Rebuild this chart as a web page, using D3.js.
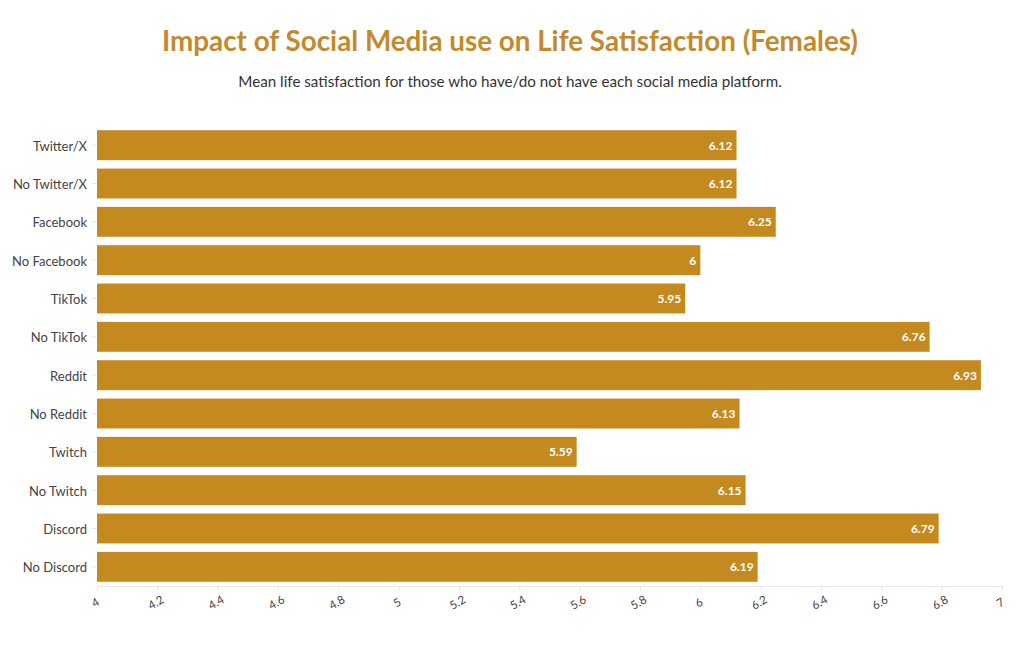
<!DOCTYPE html>
<html><head><meta charset="utf-8">
<script src="https://cdn.jsdelivr.net/npm/d3@7"></script>
<style>body{margin:0;background:#fff;} text{font-family:Lato,"Open Sans",sans-serif;}</style>
</head><body>
<svg id="c" width="1020" height="650"></svg>
<script>
const categories = ["Twitter/X","No Twitter/X","Facebook","No Facebook","TikTok","No TikTok","Reddit","No Reddit","Twitch","No Twitch","Discord","No Discord"];
const values = [6.12,6.12,6.25,6,5.95,6.76,6.93,6.13,5.59,6.15,6.79,6.19];
const xTicks = [4,4.2,4.4,4.6,4.8,5,5.2,5.4,5.6,5.8,6,6.2,6.4,6.6,6.8,7];
const titleText = "Impact of Social Media use on Life Satisfaction (Females)";
const subtitleText = "Mean life satisfaction for those who have/do not have each social media platform.";

const svg = d3.select("#c");
const gold = "#C48A1F";
const m = {left:97, right:1002, top:126, bottom:586};
const x = d3.scaleLinear().domain([4,7]).range([m.left,m.right]);
const y = d3.scaleBand().domain(categories).range([m.top,m.bottom]).paddingInner(0.22).paddingOuter(0.11);

svg.append("text").attr("x",510).attr("y",51).attr("text-anchor","middle")
  .attr("font-size",27.8).attr("font-weight","bold").attr("fill","#C28A2C").text(titleText);
svg.append("text").attr("x",510).attr("y",87).attr("text-anchor","middle")
  .attr("font-size",15.2).attr("fill","#333").text(subtitleText);

svg.selectAll("rect.bar").data(categories).join("rect").attr("class","bar")
  .attr("x",x(4)).attr("y",d=>y(d)).attr("height",y.bandwidth())
  .attr("width",(d,i)=>x(values[i])-x(4)).attr("fill",gold);

svg.selectAll("text.val").data(categories).join("text").attr("class","val")
  .attr("x",(d,i)=>x(values[i])-4).attr("y",d=>y(d)+y.bandwidth()/2+4.5)
  .attr("text-anchor","end").attr("font-size",12).attr("font-weight","bold").attr("fill","#fff")
  .text((d,i)=>values[i]);

// x axis
const xa = svg.append("g").attr("transform",`translate(0,${m.bottom})`)
  .call(d3.axisBottom(x).tickValues(xTicks).tickSize(5).tickFormat(d=>d3.format("")(d)));
xa.select(".domain").attr("stroke","#e6e6e6");
xa.selectAll(".tick line").attr("stroke","#e6e6e6");
xa.selectAll(".tick text").attr("font-size",11.5).attr("fill","#444")
  .attr("font-family","Lato, 'Open Sans', sans-serif")
  .attr("text-anchor","middle").attr("dy",0).attr("y",0)
  .attr("transform","translate(0,20) rotate(-30)");

// y axis
const ya = svg.append("g").attr("transform",`translate(${m.left},0)`)
  .call(d3.axisLeft(y).tickSize(5).tickPadding(5));
ya.select(".domain").remove();
ya.selectAll(".tick line").attr("stroke","#e6e6e6");
ya.selectAll(".tick text").attr("font-size",13).attr("fill","#444").attr("dy","0.42em")
  .attr("font-family","Lato, 'Open Sans', sans-serif");
</script>
</body></html>
